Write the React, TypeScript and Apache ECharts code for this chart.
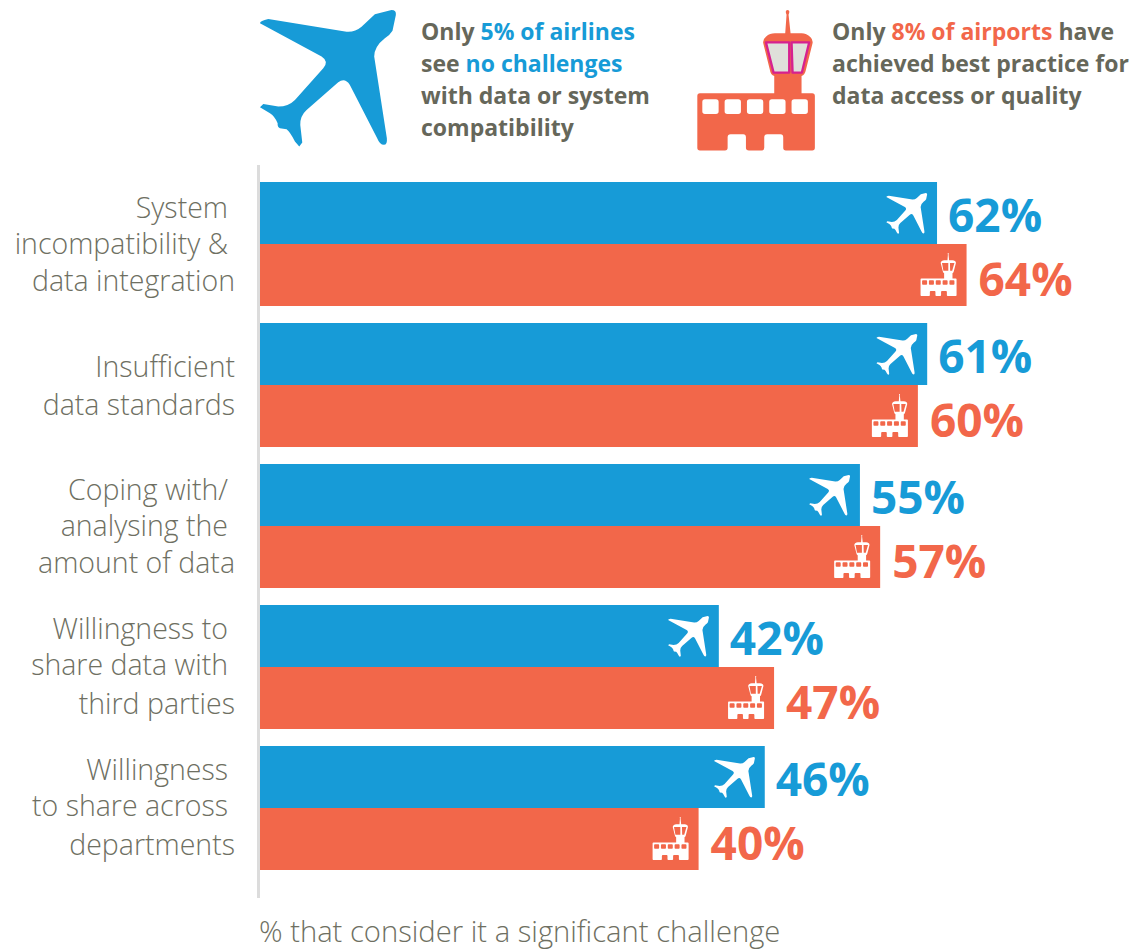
import React, { useEffect, useRef } from "react";
import * as echarts from "echarts";

const categories = [
  "{a|System}\n{a|incompatibility &}\n{b|data integration}",
  "{b|Insufficient}\n{b|data standards}",
  "{a|Coping with/}\n{a|analysing the}\n{b|amount of data}",
  "{a|Willingness to}\n{a|share data with}\n{c|third parties}",
  "{a|Willingness}\n{a|to share across}\n{c|departments}",
];
const airlineLabels = ["62%", "61%", "55%", "42%", "46%"];
const airportLabels = ["64%", "60%", "57%", "47%", "40%"];
// bar lengths as measured in the picture
const airlineBars = [61.9, 61, 54.85, 41.95, 46.15];
const airportBars = [64.6, 60.15, 56.7, 47, 40.1];

const BLUE = "#179bd7";
const ORANGE = "#f2674a";
const GREY = "#66675a";
const LIGHT = "#6e6f62";
const FONT = '"Open Sans", sans-serif';

const planePath =
  "M405,43 L455,30 Q470,30 468,45 L458,92 Q450,105 435,115 Q403,140 403,170 L441,415 Q443,435 432,435 Q420,435 412,415 L330,255 Q315,232 295,247 L200,330 Q180,348 181,375 L187,428 L178,440 L165,425 Q150,395 140,388 L120,385 Q112,382 113,370 Q105,350 90,340 L60,322 L70,312 L115,320 Q145,320 165,300 L250,205 Q268,185 245,170 L60,70 Q60,62 85,57 L320,95 Q345,97 365,80 Z";

const towerOuter =
  "M60,280 L283,280 L283,228 Q272,225 270,210 L250,130 Q248,118 258,110 Q270,100 285,100 L316,100 L320,44 Q314,30 323,30 Q332,30 326,44 L332,100 L365,100 Q380,100 392,112 Q400,120 398,130 L378,210 Q375,225 365,228 L365,280 L397,280 Q405,280 405,288 L405,444 Q405,452 397,452 L318,452 Q310,452 310,444 L310,412 Q310,403 302,403 L262,403 Q253,403 253,412 L253,444 Q253,452 245,452 L207,452 Q198,452 198,444 L198,412 Q198,403 190,403 L152,403 Q143,403 143,412 L143,444 Q143,452 135,452 L60,452 Q52,452 52,444 L52,288 Q52,280 60,280 Z";
const towerWindows = [67, 134, 201, 268, 335]
  .map(
    (x) =>
      `M${x + 8},298 Q${x},298 ${x},306 L${x},334 Q${x},342 ${x + 8},342 L${x + 41},342 Q${x + 49},342 ${x + 49},334 L${x + 49},306 Q${x + 49},298 ${x + 41},298 Z`
  )
  .join(" ");
const towerGlass = "M262,128 L276,205 L324,205 L324,128 Z M340,128 L342,205 L362,205 L384,128 Z";

echarts.graphic.registerShape("planeIcon", echarts.graphic.extendPath(planePath, {}));
echarts.graphic.registerShape("towerIcon", echarts.graphic.extendPath(towerOuter + " " + towerWindows, {}));
echarts.graphic.registerShape("towerSmall", echarts.graphic.extendPath(towerOuter + " " + towerWindows + " " + towerGlass, {}));

const Y_OFFSET = 31;

function renderPlane(_p: any, api: any) {
  const pt = api.coord([api.value(0), api.value(1)]);
  const s = 0.1;
  return {
    type: "planeIcon",
    x: pt[0] - 51 - 57 * s,
    y: pt[1] - Y_OFFSET - 20 - 30 * s,
    scaleX: s,
    scaleY: s,
    style: { fill: "#ffffff" },
  };
}
function renderTower(_p: any, api: any) {
  const pt = api.coord([api.value(0), api.value(1)]);
  const s = 0.102;
  return {
    type: "towerSmall",
    x: pt[0] - 46 - 52 * s,
    y: pt[1] + Y_OFFSET - 22 - 30 * s,
    scaleX: s,
    scaleY: s,
    style: { fill: "#ffffff" },
  };
}

export default function App() {
  const ref = useRef<HTMLDivElement>(null);
  useEffect(() => {
    document.body.style.margin = "0";
    const chart = echarts.init(ref.current!, undefined, { renderer: "svg" });
    const headStyle = { fontFamily: FONT, fontSize: 23, fontWeight: 700, lineHeight: 32 };
    const catStyle = { fontFamily: FONT, fontWeight: 300, fontSize: 28.5, color: LIGHT };
    chart.setOption({
      animation: false,
      backgroundColor: "#ffffff",
      grid: { left: 260, top: 173.5, width: 875, height: 705, containLabel: false },
      xAxis: { type: "value", min: 0, max: 80, show: false },
      yAxis: {
        type: "category",
        inverse: true,
        data: categories,
        axisLine: { show: false },
        axisTick: { show: false },
        axisLabel: {
          margin: 25,
          align: "right",
          color: LIGHT,
          formatter: (v: string) => v,
          rich: {
            a: { ...catStyle, lineHeight: 36, padding: [0, 7, 0, 0] },
            b: { ...catStyle, lineHeight: 38 },
            c: { ...catStyle, lineHeight: 43 },
          },
        },
      },
      series: [
        {
          type: "bar",
          data: airlineBars,
          barWidth: 62,
          barGap: 0,
          itemStyle: { color: BLUE },
          label: {
            show: true,
            position: "right",
            distance: 11,
            offset: [0, 1],
            color: BLUE,
            fontFamily: FONT,
            fontWeight: 700,
            fontSize: 46,
            formatter: (p: any) => airlineLabels[p.dataIndex],
          },
        },
        {
          type: "bar",
          data: airportBars,
          barWidth: 62,
          barGap: 0,
          itemStyle: { color: ORANGE },
          label: {
            show: true,
            position: "right",
            distance: 12,
            offset: [0, 3],
            color: ORANGE,
            fontFamily: FONT,
            fontWeight: 700,
            fontSize: 46,
            formatter: (p: any) => airportLabels[p.dataIndex],
          },
        },
        {
          type: "custom",
          renderItem: renderPlane,
          clip: false,
          silent: true,
          data: airlineBars.map((v, i) => [v, i]),
          encode: { x: 0, y: 1 },
          z: 5,
        },
        {
          type: "custom",
          renderItem: renderTower,
          clip: false,
          silent: true,
          data: airportBars.map((v, i) => [v, i]),
          encode: { x: 0, y: 1 },
          z: 5,
        },
      ],
      graphic: [
        { type: "line", shape: { x1: 258.5, y1: 165, x2: 258.5, y2: 898 }, style: { stroke: "#dcdcdc", lineWidth: 3 } },
        { type: "planeIcon", x: 240, y: 0, scaleX: 1 / 3, scaleY: 1 / 3, style: { fill: BLUE } },
        { type: "towerIcon", x: 680, y: 0, scaleX: 1 / 3, scaleY: 1 / 3, style: { fill: ORANGE } },
        {
          type: "polygon",
          x: 680,
          y: 0,
          scaleX: 1 / 3,
          scaleY: 1 / 3,
          shape: { points: [[258, 127], [328, 127], [328, 218], [281, 218]] },
          style: { fill: "#dfe0da", stroke: "#d6218f", lineWidth: 7, lineJoin: "round" },
        },
        {
          type: "polygon",
          x: 680,
          y: 0,
          scaleX: 1 / 3,
          scaleY: 1 / 3,
          shape: { points: [[335, 127], [388, 127], [366, 218], [338, 218]] },
          style: { fill: "#dfe0da", stroke: "#d6218f", lineWidth: 7, lineJoin: "round" },
        },
        {
          type: "text",
          x: 421,
          y: 15,
          style: {
            text: "{g|Only }{b|5% of airlines}\n{g|see }{b|no challenges}\n{g|with data or system}\n{g|compatibility}",
            rich: {
              g: { ...headStyle, fill: GREY },
              b: { ...headStyle, fill: BLUE },
            },
          },
        },
        {
          type: "text",
          x: 832,
          y: 15,
          style: {
            text: "{g|Only }{o|8% of airports}{g| have}\n{g|achieved best practice for}\n{g|data access or quality}",
            rich: {
              g: { ...headStyle, fill: GREY },
              o: { ...headStyle, fill: ORANGE },
            },
          },
        },
        {
          type: "text",
          x: 259,
          y: 916,
          style: {
            text: "% that consider it a significant challenge",
            fontFamily: FONT,
            fontWeight: 300,
            fontSize: 29.2,
            fill: LIGHT,
          },
        },
      ],
    });
    return () => chart.dispose();
  }, []);
  return <div ref={ref} style={{ width: 1135, height: 949 }} />;
}
